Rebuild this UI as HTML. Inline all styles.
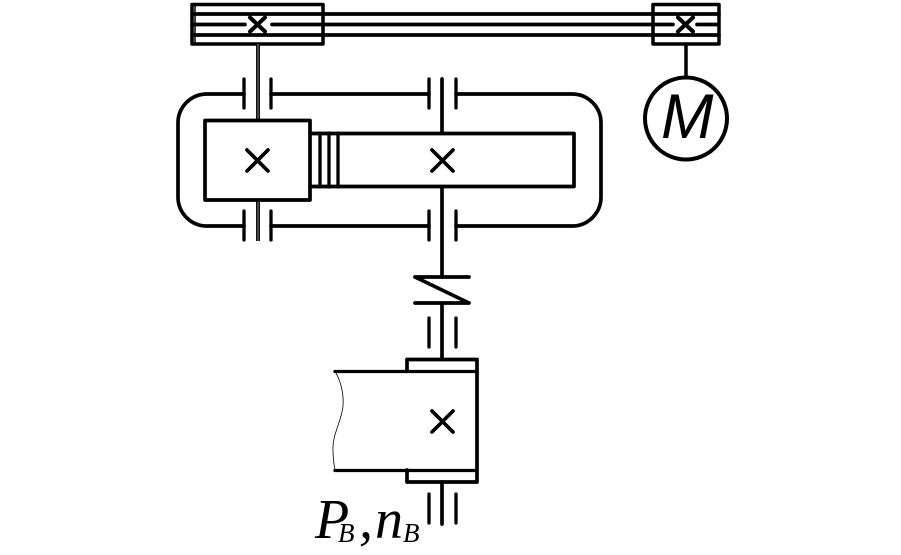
<!DOCTYPE html>
<html>
<head>
<meta charset="utf-8">
<style>
html,body{margin:0;padding:0;background:#fff;width:901px;height:555px;overflow:hidden}
svg{display:block}
</style>
</head>
<body>
<svg width="901" height="555" viewBox="0 0 901 555" xmlns="http://www.w3.org/2000/svg">
<g fill="none" stroke="#000" stroke-width="3.700" stroke-linecap="round" stroke-linejoin="round">
<!-- top left pulley -->
<rect x="192" y="4.500" width="131" height="39.5" stroke-width="3.500"/>
<path d="M195 5V43" stroke-width="1.500"/>
<path d="M192 14H719M192 35H719" stroke-width="3.700"/>
<path d="M192 24.500H245M272 24.500H673M697 24.500H718" stroke-width="3.700"/>
<path d="M250 17.500L265 31.500M265 17.500L250 31.500" stroke-width="4"/>
<!-- top right pulley -->
<rect x="653" y="4.500" width="66" height="39.5" stroke-width="3.500"/>
<path d="M678 17.500L693 31.500M693 17.500L678 31.500" stroke-width="4"/>
<!-- motor -->
<path d="M686 44V77" stroke-width="3.500"/>
<circle cx="686" cy="118.500" r="41" stroke-width="4"/>
<!-- left shaft -->
<path d="M258 44V120M258 200V241" stroke-width="4" stroke="#111" stroke-linecap="butt"/>
<path d="M258 44V120M258 200V241" stroke-width="0.800" stroke="#999" stroke-linecap="butt"/>
<!-- housing -->
<path d="M244 94H207A29 29 0 0 0 178 123V197A29 29 0 0 0 207 226H244" stroke-width="3.700"/>
<path d="M271 94H429M456 94H572A29 29 0 0 1 601 123V197A29 29 0 0 1 572 226H456M429 226H271" stroke-width="3.700"/>
<!-- bearings -->
<path d="M244 79V108M271 79V108M429 79V108M456 79V108M244 211V240M271 211V240M429 211V240M456 211V240" stroke-width="3.300"/>
<!-- center shaft -->
<path d="M442 79V133M442 187V277M442 303V358" stroke-width="3.700"/>
<!-- pinion box -->
<rect x="205" y="120.500" width="105" height="79.5" stroke-width="3.700"/>
<path d="M310 133.500H574V186.500H310" stroke-width="3.700"/>
<path d="M320 133V187M329 133V187M338 133V187" stroke-width="3.300"/>
<path d="M247 150L268 171M268 150L247 171M432 150L453 171M453 150L432 171" stroke-width="3.700"/>
<!-- coupling -->
<path d="M415 277H469M415 303H469M415 277L469 303" stroke-width="3.700"/>
<path d="M429 318V347M456 318V347" stroke-width="3.300"/>
<!-- drum -->
<path d="M407 371V359.500H477V482H407V470" stroke-width="3.700"/>
<path d="M335 371.500H477M335 470.500H477" stroke-width="3.300"/>
<path d="M432 411L453 432M453 411L432 432" stroke-width="3.700"/>
<path d="M335 371C340 380 344 392 343 406C342 420 332 435 333 450C333 458 334 465 335 470" stroke-width="0.800"/>
<!-- bottom shaft -->
<path d="M442 482V524" stroke-width="3.700"/>
<path d="M429 494V523M456 494V523" stroke-width="3.300"/>
</g>
<text x="661" y="138" font-family="'Liberation Sans',sans-serif" font-style="italic" font-size="63" fill="#000">M</text>
<g font-family="'Liberation Serif',serif" font-style="italic" fill="#000">
<text x="315" y="538" font-size="56">P</text>
<text x="338" y="542" font-size="27">B</text>
<text x="359" y="538" font-size="56">,</text>
<text x="375" y="538" font-size="56">n</text>
<text x="403" y="542" font-size="27">B</text>
</g>
</svg>
</body>
</html>
